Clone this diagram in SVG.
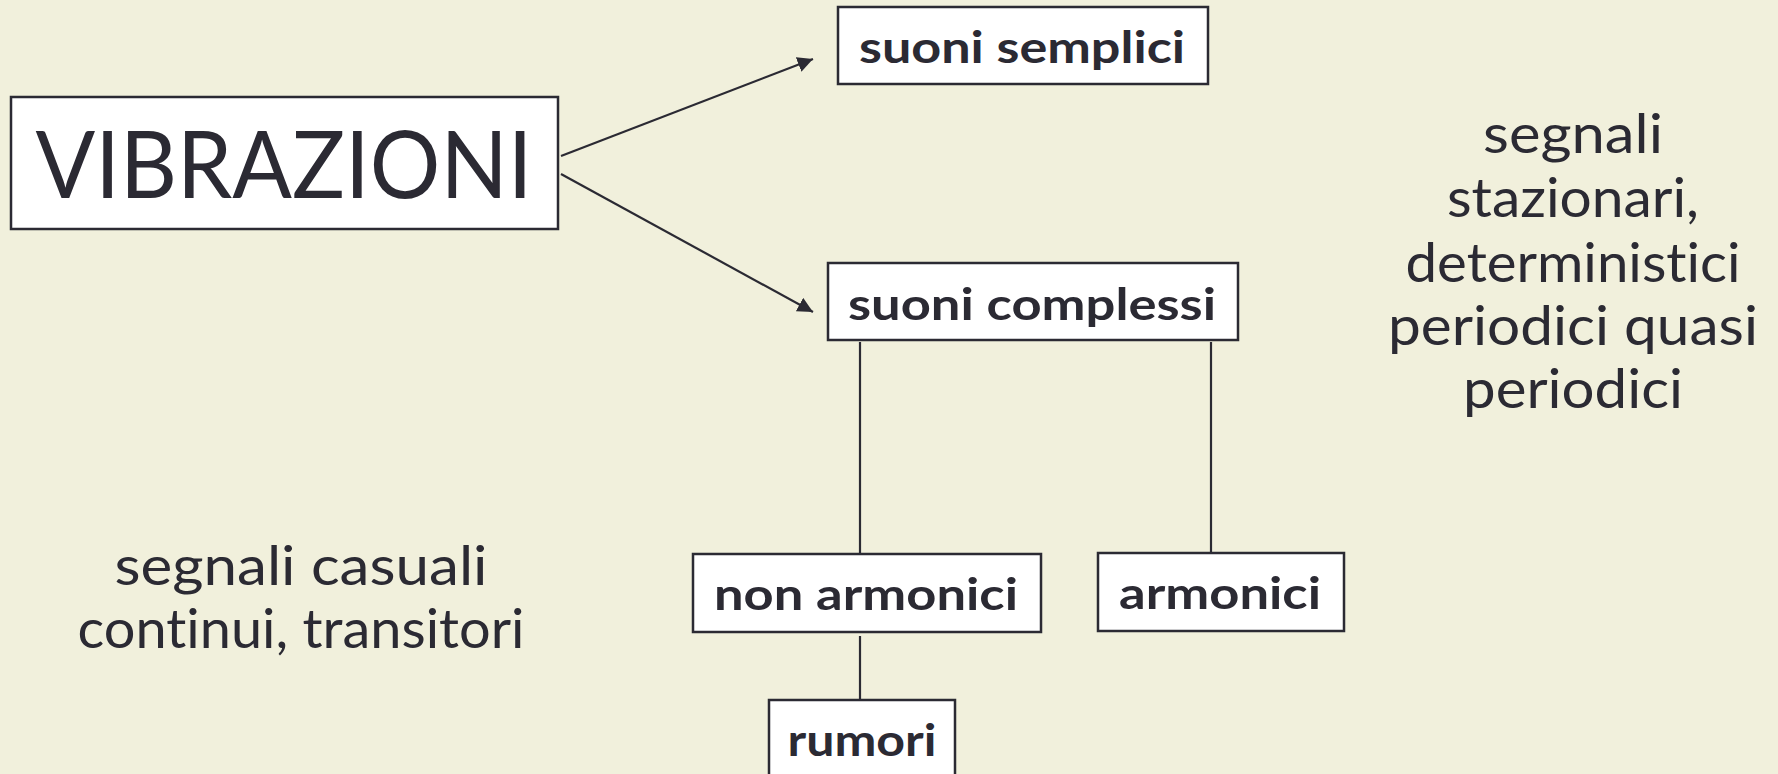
<svg xmlns="http://www.w3.org/2000/svg" width="1778" height="774" viewBox="0 0 1778 774">
<style>
text{font-variant-ligatures:none}
.box{fill:#ffffff;stroke:#2b2a33;stroke-width:2.5}
.lbl{font-family:"Lato","Liberation Sans",sans-serif;font-weight:bold;font-size:44px;fill:#2b2a33;text-anchor:middle}
.big{font-family:"Lato","Liberation Sans",sans-serif;font-size:94px;fill:#2b2a33;text-anchor:middle}
.note{font-family:"Lato","Liberation Sans",sans-serif;font-size:54px;fill:#2b2a33;text-anchor:middle}
.con{stroke:#2b2a33;stroke-width:2.2;fill:none}
</style>
<defs>
<marker id="ah" viewBox="0 0 10 10" refX="10" refY="5" markerWidth="7" markerHeight="7" markerUnits="strokeWidth" orient="auto">
<path d="M0,0 L10,5 L0,10 z" fill="#2b2a33"/>
</marker>
</defs>
<rect width="1778" height="774" fill="#f1f0dc"/>
<g id="connectors">
<line class="con" x1="561" y1="156" x2="813" y2="59" marker-end="url(#ah)"/>
<line class="con" x1="561" y1="174" x2="813" y2="312" marker-end="url(#ah)"/>
<line class="con" x1="860" y1="342" x2="860" y2="553"/>
<line class="con" x1="1211" y1="342" x2="1211" y2="552"/>
<line class="con" x1="860" y1="636" x2="860" y2="699"/>
</g>
<g id="vibrazioni">
<rect class="box" x="11" y="97" width="547" height="132"/>
<text class="big" x="284" y="198" textLength="497" lengthAdjust="spacingAndGlyphs">VIBRAZIONI</text>
</g>
<g id="suoni-semplici">
<rect class="box" x="838" y="7" width="370" height="77"/>
<text class="lbl" x="1022" y="63" textLength="326" lengthAdjust="spacingAndGlyphs">suoni semplici</text>
</g>
<g id="suoni-complessi">
<rect class="box" x="828" y="263" width="410" height="77"/>
<text class="lbl" x="1032" y="320" textLength="368" lengthAdjust="spacingAndGlyphs">suoni complessi</text>
</g>
<g id="non-armonici">
<rect class="box" x="693" y="554" width="348" height="78"/>
<text class="lbl" x="866" y="610" textLength="304" lengthAdjust="spacingAndGlyphs">non armonici</text>
</g>
<g id="armonici">
<rect class="box" x="1098" y="553" width="246" height="78"/>
<text class="lbl" x="1220" y="609" textLength="202" lengthAdjust="spacingAndGlyphs">armonici</text>
</g>
<g id="rumori">
<rect class="box" x="769" y="700" width="186" height="90"/>
<text class="lbl" x="862" y="756" textLength="149" lengthAdjust="spacingAndGlyphs">rumori</text>
</g>
<g id="note-right">
<text class="note" x="1573" y="153" textLength="180" lengthAdjust="spacingAndGlyphs">segnali</text>
<text class="note" x="1573" y="217" textLength="252" lengthAdjust="spacingAndGlyphs">stazionari,</text>
<text class="note" x="1573" y="282" textLength="335" lengthAdjust="spacingAndGlyphs">deterministici</text>
<text class="note" x="1573" y="345" textLength="370" lengthAdjust="spacingAndGlyphs">periodici quasi</text>
<text class="note" x="1573" y="408" textLength="220" lengthAdjust="spacingAndGlyphs">periodici</text>
</g>
<g id="note-left">
<text class="note" x="301" y="585" textLength="373" lengthAdjust="spacingAndGlyphs">segnali casuali</text>
<text class="note" x="301" y="648" textLength="447" lengthAdjust="spacingAndGlyphs">continui, transitori</text>
</g>
</svg>
